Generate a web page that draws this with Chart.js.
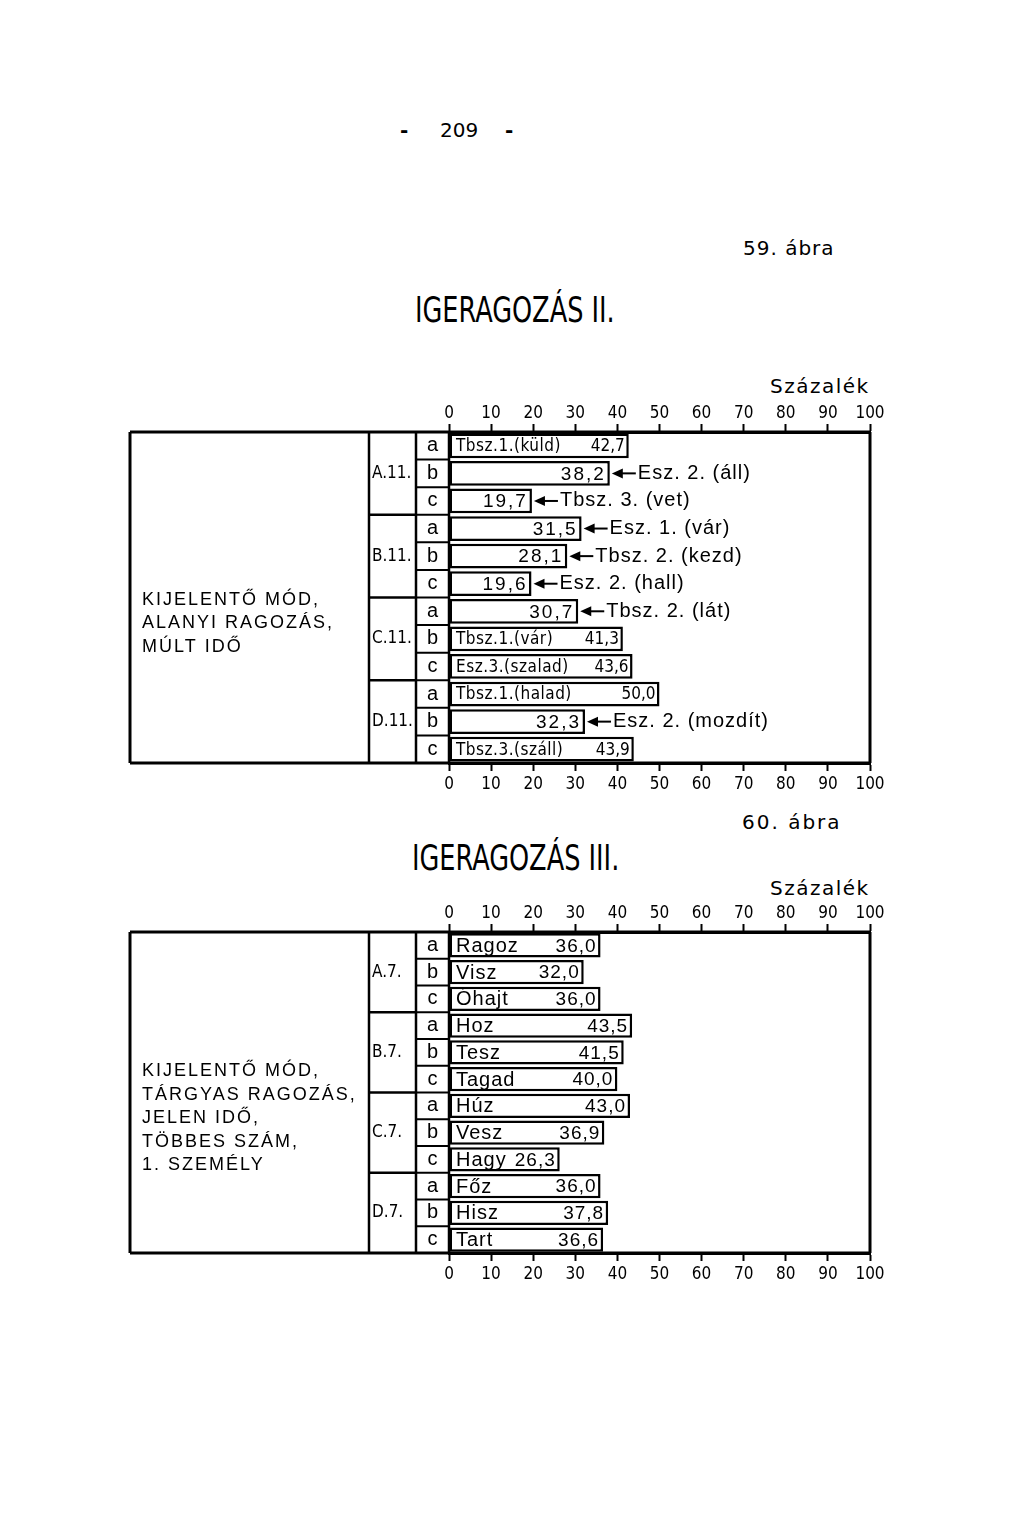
<!DOCTYPE html>
<html lang="hu">
<head>
<meta charset="utf-8">
<title>Igeragozás II–III</title>
<script src="https://cdn.jsdelivr.net/npm/chart.js@4"></script>
<style>
  body { margin: 0; background: #fff; width: 1024px; height: 1513px; position: relative; overflow: hidden; color: #000; }
  .t { position: absolute; white-space: nowrap; line-height: 1; }
  .reg { font-family: "DejaVu Sans", sans-serif; font-size: 20px; letter-spacing: 1px; }
  .big { font-family: "Liberation Sans Narrow", "DejaVu Sans Condensed", sans-serif; font-size: 36px; transform: scaleX(0.79); transform-origin: left center; }
  canvas { position: absolute; left: 0; }
</style>
</head>
<body>
<div class="t reg" style="left:400px;top:120px;font-weight:bold">-</div>
<div class="t reg" style="left:440px;top:120px;letter-spacing:0">209</div>
<div class="t reg" style="left:505px;top:120px;font-weight:bold">-</div>
<div class="t reg" style="left:743px;top:238px">59. ábra</div>
<div class="t big" style="left:415px;top:292px">IGERAGOZÁS II.</div>
<div class="t reg" style="left:770px;top:376px;letter-spacing:1.5px">Százalék</div>

<div class="t reg" style="left:742px;top:812px;letter-spacing:2px">60. ábra</div>
<div class="t big" style="left:412px;top:840px">IGERAGOZÁS III.</div>
<div class="t reg" style="left:770px;top:878px;letter-spacing:1.5px">Százalék</div>

<canvas id="chart1" width="1024" height="440" style="top:370px"></canvas>
<canvas id="chart2" width="1024" height="440" style="top:860px"></canvas>

<script>
// --- data ---
const letters = ["a", "b", "c", "a", "b", "c", "a", "b", "c", "a", "b", "c"];
const xTicks = [0, 10, 20, 30, 40, 50, 60, 70, 80, 90, 100];

// 59. ábra
const groups1 = ["A.11.", "B.11.", "C.11.", "D.11."];
const values1 = [42.7, 38.2, 19.7, 31.5, 28.1, 19.6, 30.7, 41.3, 43.6, 50.0, 32.3, 43.9];
const inside1 = ["Tbsz.1.(küld)", "", "", "", "", "", "", "Tbsz.1.(vár)", "Esz.3.(szalad)", "Tbsz.1.(halad)", "", "Tbsz.3.(száll)"];
const arrows1 = ["", "Esz. 2. (áll)", "Tbsz. 3. (vet)", "Esz. 1. (vár)", "Tbsz. 2. (kezd)", "Esz. 2. (hall)",
                 "Tbsz. 2. (lát)", "", "", "", "Esz. 2. (mozdít)", ""];
const caption1 = ["KIJELENTŐ MÓD,", "ALANYI RAGOZÁS,", "MÚLT IDŐ"];

// 60. ábra
const groups2 = ["A.7.", "B.7.", "C.7.", "D.7."];
const values2 = [36.0, 32.0, 36.0, 43.5, 41.5, 40.0, 43.0, 36.9, 26.3, 36.0, 37.8, 36.6];
const inside2 = ["Ragoz", "Visz", "Óhajt", "Hoz", "Tesz", "Tagad", "Húz", "Vesz", "Hagy", "Főz", "Hisz", "Tart"];
const arrows2 = ["", "", "", "", "", "", "", "", "", "", "", ""];
const caption2 = ["KIJELENTŐ MÓD,", "TÁRGYAS RAGOZÁS,", "JELEN IDŐ,", "TÖBBES SZÁM,", "1. SZEMÉLY"];

const NARROW = '"Liberation Sans Narrow", "DejaVu Sans Condensed", sans-serif';
const REG = '"Liberation Sans", Arial, sans-serif';

function fmt(v) {
  return v.toFixed(1).replace(".", ",");
}

// draws the table frame, the row labels and the texts on the bars
const tableFrame = {
  id: "tableFrame",
  afterDatasetsDraw(chart, args, opts) {
    const ctx = chart.ctx;
    const a = chart.chartArea;
    const ys = chart.scales.y;
    const n = chart.data.labels.length;
    const rowH = (a.bottom - a.top) / n;
    const line = (x1, y1, x2, y2, w) => {
      ctx.lineWidth = w;
      ctx.beginPath();
      ctx.moveTo(x1, y1);
      ctx.lineTo(x2, y2);
      ctx.stroke();
    };
    ctx.save();
    ctx.strokeStyle = "#000";
    ctx.fillStyle = "#000";

    // frame
    line(opts.boxLeft, a.top, a.right, a.top, 3);
    line(opts.boxLeft, a.bottom, a.right, a.bottom, 3);
    line(opts.boxLeft, a.top, opts.boxLeft, a.bottom, 3);
    line(a.right, a.top, a.right, a.bottom, 3);
    line(opts.groupX, a.top, opts.groupX, a.bottom, 2.5);
    line(opts.letterX, a.top, opts.letterX, a.bottom, 2.5);
    line(a.left, a.top, a.left, a.bottom, 2.5);

    // row lines, letters
    ctx.textBaseline = "middle";
    for (let i = 0; i < n; i++) {
      const cy = ys.getPixelForValue(i);
      if (i > 0) {
        const yy = cy - rowH / 2;
        line(opts.letterX, yy, a.left, yy, 2);
        if (i % 3 === 0) line(opts.groupX, yy, opts.letterX, yy, 2.5);
      }
      ctx.font = "20px " + REG;
      ctx.textAlign = "center";
      ctx.fillText(opts.letters[i], (opts.letterX + a.left) / 2, cy);
    }

    // group labels
    ctx.font = "17px " + NARROW;
    ctx.textAlign = "left";
    opts.groups.forEach((g, gi) => {
      const cy = ys.getPixelForValue(gi * 3 + 1);
      ctx.fillText(g, opts.groupX + 3, cy);
    });

    // caption in the left box
    ctx.font = "18px " + REG;
    ctx.letterSpacing = "2px";
    const lh = 23.5;
    const midY = (a.top + a.bottom) / 2 + 26 - (opts.caption.length - 1) * lh / 2;
    opts.caption.forEach((c, i) => ctx.fillText(c, opts.boxLeft + 12, midY + i * lh));

    // bar texts
    const meta = chart.getDatasetMeta(0);
    const vals = chart.data.datasets[0].data;
    meta.data.forEach((bar, i) => {
      const cy = bar.y;
      const xEnd = bar.x;
      if (opts.inside[i]) {
        ctx.letterSpacing = opts.insideSpacing;
        ctx.font = opts.insideFont;
        ctx.textAlign = "left";
        ctx.fillText(opts.inside[i], a.left + 7, cy + 1);
      }
      ctx.letterSpacing = opts.inside[i] ? opts.valueSpacingIn : "2px";
      ctx.font = opts.inside[i] ? opts.valueFontIn : "19px " + REG;
      ctx.textAlign = "right";
      ctx.fillText(fmt(vals[i]), xEnd - 4, cy + 1);
      if (opts.arrows[i]) {
        const tip = xEnd + 2;
        ctx.beginPath();
        ctx.moveTo(tip, cy);
        ctx.lineTo(tip + 11, cy - 5);
        ctx.lineTo(tip + 11, cy + 5);
        ctx.closePath();
        ctx.fill();
        line(tip + 10, cy, tip + 24, cy, 2);
        ctx.letterSpacing = "1px";
        ctx.font = "20px " + REG;
        ctx.textAlign = "left";
        ctx.fillText(opts.arrows[i], tip + 26, cy);
      }
    });
    ctx.letterSpacing = "0px";
    ctx.restore();
  }
};

function xAxis(position, tickPad, h) {
  return {
    type: "linear",
    position: position,
    min: 0,
    max: 100,
    afterBuildTicks: (s) => { s.ticks = xTicks.map(v => ({ value: v })); },
    afterFit: (s) => { s.height = h; },
    ticks: {
      color: "#000",
      padding: tickPad,
      maxRotation: 0,
      autoSkip: false,
      font: { family: NARROW, size: 17 }
    },
    grid: { drawOnChartArea: false, drawTicks: true, tickLength: 8, tickColor: "#000", tickWidth: 2 },
    border: { display: true, color: "#000", width: 3 }
  };
}

function makeChart(id, groups, values, inside, arrows, caption, pad, frame) {
  const labels = values.map((v, i) => groups[Math.floor(i / 3)] + " " + letters[i]);
  return new Chart(document.getElementById(id), {
    type: "bar",
    data: {
      labels: labels,
      datasets: [{
        data: values,
        xAxisID: "x",
        backgroundColor: "#fff",
        borderColor: "#000",
        borderWidth: 2.5,
        borderSkipped: false,
        barPercentage: 0.9,
        categoryPercentage: 1.0
      }]
    },
    options: {
      indexAxis: "y",
      responsive: false,
      animation: false,
      layout: { padding: pad },
      scales: {
        x: xAxis("bottom", 3, 30),
        x2: xAxis("top", 0, 30),
        y: { type: "category", display: false, offset: true }
      },
      plugins: {
        legend: { display: false },
        tooltip: { enabled: false },
        tableFrame: Object.assign({
          groups: groups, letters: letters, inside: inside, arrows: arrows, caption: caption,
          boxLeft: 130, groupX: 369, letterX: 416
        }, frame)
      }
    },
    plugins: [tableFrame]
  });
}

makeChart("chart1", groups1, values1, inside1, arrows1, caption1,
  { left: 449, right: 154, top: 32, bottom: 17 },
  { insideFont: "17px " + NARROW, insideSpacing: "0.5px", valueFontIn: "17px " + NARROW, valueSpacingIn: "0px" });

makeChart("chart2", groups2, values2, inside2, arrows2, caption2,
  { left: 449, right: 154, top: 42, bottom: 17 },
  { insideFont: "20px " + REG, insideSpacing: "1px", valueFontIn: "19px " + REG, valueSpacingIn: "1px" });
</script>
</body>
</html>
